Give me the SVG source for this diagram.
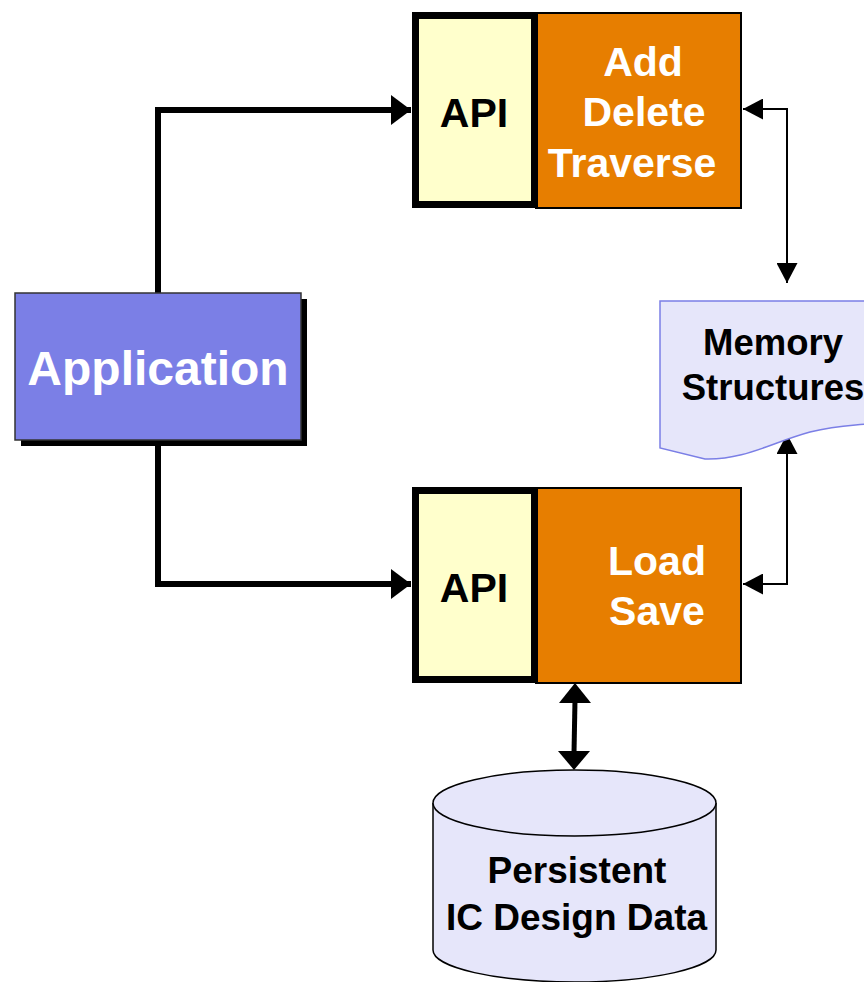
<svg xmlns="http://www.w3.org/2000/svg" width="864" height="982" viewBox="0 0 864 982">
<defs>
<style>
text{font-family:"Liberation Sans",Arial,sans-serif;font-weight:bold;text-anchor:middle}
.api{fill:#FFFFCC;stroke:#000;stroke-width:7}
.op{fill:#E77E00;stroke:#000;stroke-width:2}
.w{fill:#fff;font-size:41px}
.b{fill:#000}
.thick{fill:none;stroke:#000;stroke-width:6}
.thin{fill:none;stroke:#000;stroke-width:2}
.lav{fill:#E6E6FA}
</style>
<marker id="ah" viewBox="0 0 10 10" refX="10" refY="5" markerWidth="20" markerHeight="30" markerUnits="userSpaceOnUse" orient="auto-start-reverse" preserveAspectRatio="none"><path d="M0,0L10,5L0,10z" fill="#000"/></marker>
<marker id="ahs" viewBox="0 0 10 10" refX="10" refY="5" markerWidth="20" markerHeight="21" markerUnits="userSpaceOnUse" orient="auto-start-reverse" preserveAspectRatio="none"><path d="M0,0L10,5L0,10z" fill="#000"/></marker>
</defs>
<g id="connectors">
<path class="thick" d="M158,293V110H411" marker-end="url(#ah)"/>
<path class="thick" d="M158,446V584H411" marker-end="url(#ah)"/>
<path class="thin" d="M743,109H787V283" marker-start="url(#ahs)" marker-end="url(#ahs)"/>
<path class="thin" d="M787,434V584H743" marker-start="url(#ahs)" marker-end="url(#ahs)"/>
<path fill="none" stroke="#000" stroke-width="5" d="M575,700L574,753"/>
<path d="M575,683L591,703L559,703z" fill="#000"/>
<path d="M574,770L590,751L558,751z" fill="#000"/>
</g>
<g id="application">
<rect x="21" y="299" width="286" height="147" fill="#000"/>
<rect x="15" y="293" width="286" height="147" fill="#7B7FE6" stroke="#333" stroke-width="1.5"/>
<text x="158" y="385" fill="#fff" font-size="48">Application</text>
</g>
<g id="top-block">
<rect class="op" x="536" y="13" width="205" height="195"/>
<rect class="api" x="415.5" y="15.5" width="119" height="189"/>
<text class="b" x="474" y="127" font-size="41">API</text>
<text class="w" x="643" y="76">Add</text>
<text class="w" x="644" y="126">Delete</text>
<text class="w" x="632" y="177">Traverse</text>
</g>
<g id="bottom-block">
<rect class="op" x="536" y="488" width="205" height="195"/>
<rect class="api" x="415.5" y="490.5" width="119" height="189"/>
<text class="b" x="474" y="602" font-size="41">API</text>
<text class="w" x="657" y="575">Load</text>
<text class="w" x="657" y="625">Save</text>
</g>
<g id="memory">
<path class="lav" d="M660,301H866V424C845,426 835,426 810,432C770,443 745,460 705,459L660,448Z" stroke="#7B7FE6" stroke-width="1.5"/>
<text class="b" x="773" y="355" font-size="36.5">Memory</text>
<text class="b" x="773" y="400" font-size="36.5">Structures</text>
</g>
<g id="persistent">
<path class="lav" d="M433,803V950A141.5,32 0 0 0 716,950V803" stroke="#000" stroke-width="1.5"/>
<ellipse class="lav" cx="574.5" cy="803" rx="141.5" ry="33" stroke="#000" stroke-width="1.5"/>
<text class="b" x="577" y="883" font-size="37">Persistent</text>
<text class="b" x="576.5" y="930" font-size="37">IC Design Data</text>
</g>
</svg>
